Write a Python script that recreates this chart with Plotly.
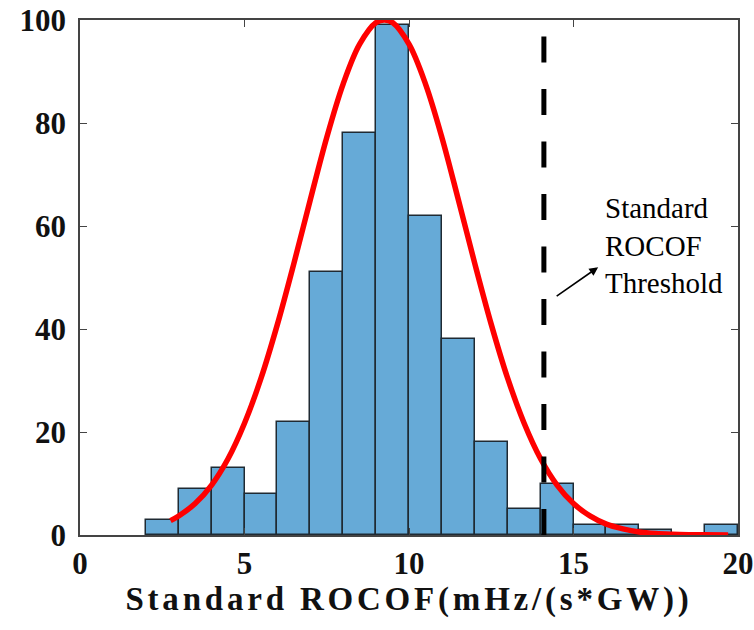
import plotly.graph_objects as go

# Histogram bins (left edges) and counts
bin_left = [2, 3, 4, 5, 6, 7, 8, 9, 10, 11, 12, 13, 14, 15, 16, 17, 18, 19]
counts = [3, 9, 13, 8, 22, 51, 78, 99, 62, 38, 18, 5, 10, 2, 2, 1, 0, 2]

# Fitted curve
curve_x = [2.75, 3.0, 3.5, 4.0, 4.5, 5.0, 5.5, 6.0, 6.5, 7.0, 7.5, 8.0, 8.5, 9.0, 9.25,
           9.5, 10.0, 10.5, 11.0, 11.5, 12.0, 12.5, 13.0, 13.5, 14.0, 14.5, 15.0, 15.5,
           16.0, 16.5, 17.0, 17.5, 18.0, 18.5, 19.0, 19.7]
curve_y = [2.8, 3.7, 6.1, 9.7, 14.8, 21.7, 30.4, 40.9, 52.7, 65.1, 77.2, 87.6, 95.3, 99.5, 100,
           99.5, 95.3, 87.6, 77.2, 65.1, 52.7, 40.9, 30.4, 21.7, 14.8, 9.7, 6.1, 3.7,
           2.1, 1.2, 0.6, 0.3, 0.15, 0.07, 0.03, 0.0]

threshold_x = 14.1
x_ticks = [0, 5, 10, 15, 20]
y_ticks = [0, 20, 40, 60, 80, 100]

FONT = "Liberation Serif, Times New Roman, serif"

fig = go.Figure()
fig.add_trace(go.Bar(
    x=[b + 0.5 for b in bin_left], y=counts, width=1,
    marker=dict(color="rgb(102,170,215)", line=dict(color="#1f2a33", width=1.5)),
    showlegend=False, hoverinfo="skip"))
fig.add_trace(go.Scatter(
    x=curve_x, y=curve_y, mode="lines", line=dict(color="#ff0000", width=5.5, shape="spline"),
    showlegend=False, hoverinfo="skip"))
fig.add_trace(go.Scatter(
    x=[threshold_x, threshold_x], y=[0, 100], mode="lines",
    line=dict(color="black", width=5, dash="26px,26.5px"),
    showlegend=False, hoverinfo="skip"))

# arrow
fig.add_annotation(x=15.75, y=52.0, ax=-43, ay=30, xref="x", yref="y",
                   text="", showarrow=True, arrowhead=2, arrowsize=1.1,
                   arrowwidth=1.6, arrowcolor="black")
fig.add_annotation(x=15.9, y=56.3, xref="x", yref="y", xanchor="left", yanchor="middle",
                   text="Standard<br>ROCOF<br>Threshold", showarrow=False, align="left",
                   font=dict(family=FONT, size=29, color="black"))

axis_common = dict(showline=True, linecolor="#444", linewidth=1.5, mirror="ticks",
                   ticks="inside", ticklen=7, tickwidth=1, tickcolor="#444",
                   showgrid=False, zeroline=False, automargin=False,
                   ticklabeloverflow="allow",
                   tickfont=dict(family=FONT, size=31, color="#111"))

title_txt = ('<span style="letter-spacing:3.8px"><b>Standard ROCOF(mHz/(s*GW))</b></span>')

fig.update_layout(
    width=754, height=630,
    margin=dict(l=80, r=16, t=20, b=95),
    plot_bgcolor="white", paper_bgcolor="white",
    bargap=0,
    xaxis=dict(range=[0, 20], tickvals=x_ticks, ticktext=[f"<b>{v}</b>" for v in x_ticks],
               title=dict(text=title_txt,
                          font=dict(family=FONT, size=33, color="#111"), standoff=5),
               ticklabelstandoff=0,
               **axis_common),
    yaxis=dict(range=[0, 100], tickvals=y_ticks, ticktext=[f"<b>{v}</b>" for v in y_ticks],
               ticklabelstandoff=6,
               **axis_common),
)

fig.write_html("out.html")
